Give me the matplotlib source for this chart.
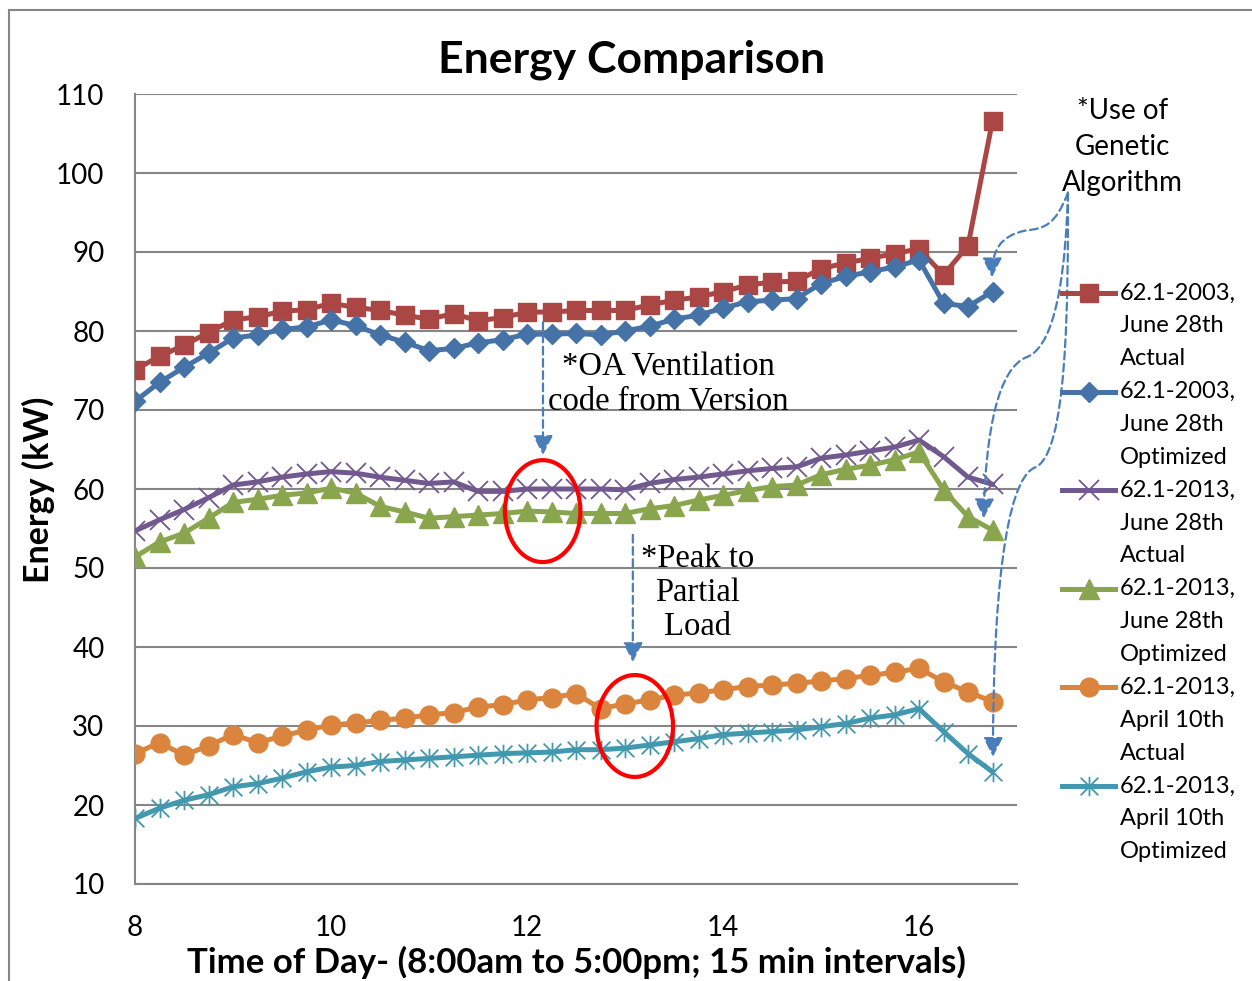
import matplotlib
matplotlib.use("Agg")
import matplotlib.pyplot as plt
from matplotlib.patches import FancyArrowPatch, Ellipse, Rectangle
from matplotlib.path import Path
from matplotlib.lines import Line2D

# time of day, 15 minute steps
hours = [8.0, 8.25, 8.5, 8.75, 9.0, 9.25, 9.5, 9.75, 10.0, 10.25, 10.5, 10.75,
         11.0, 11.25, 11.5, 11.75, 12.0, 12.25, 12.5, 12.75, 13.0, 13.25, 13.5, 13.75,
         14.0, 14.25, 14.5, 14.75, 15.0, 15.25, 15.5, 15.75, 16.0, 16.25, 16.5, 16.75]

jun_2003_actual = [75.1, 76.8, 78.2, 79.8, 81.4, 81.8, 82.5, 82.7, 83.5, 83.0, 82.6, 82.0,
                   81.5, 82.2, 81.3, 81.7, 82.4, 82.4, 82.6, 82.6, 82.6, 83.3, 83.9, 84.3,
                   85.0, 85.8, 86.2, 86.3, 87.9, 88.6, 89.2, 89.8, 90.4, 87.1, 90.8, 106.6]
jun_2003_opt = [71.1, 73.5, 75.4, 77.2, 79.1, 79.5, 80.2, 80.5, 81.4, 80.7, 79.5, 78.6,
                77.5, 77.8, 78.5, 78.9, 79.6, 79.6, 79.7, 79.5, 80.0, 80.6, 81.5, 82.0,
                82.9, 83.7, 83.9, 84.1, 86.0, 86.9, 87.5, 88.1, 89.0, 83.5, 83.1, 85.0]
jun_2013_actual = [54.7, 56.1, 57.4, 58.9, 60.5, 60.9, 61.5, 61.9, 62.2, 62.0, 61.5, 61.1,
                   60.7, 60.9, 59.7, 59.7, 60.0, 60.0, 60.0, 60.0, 59.9, 60.7, 61.2, 61.5,
                   61.9, 62.3, 62.6, 62.8, 63.9, 64.3, 64.8, 65.3, 66.2, 64.1, 61.5, 60.6]
jun_2013_opt = [51.4, 53.3, 54.4, 56.3, 58.3, 58.7, 59.2, 59.5, 60.1, 59.5, 57.8, 57.1,
                56.3, 56.5, 56.7, 56.9, 57.2, 57.1, 56.9, 56.9, 56.9, 57.5, 57.9, 58.6,
                59.2, 59.8, 60.3, 60.5, 61.8, 62.5, 63.0, 63.7, 64.7, 59.9, 56.5, 54.8]
apr_2013_actual = [26.5, 27.9, 26.3, 27.5, 28.9, 27.9, 28.7, 29.5, 30.1, 30.4, 30.7, 31.0,
                   31.4, 31.7, 32.4, 32.7, 33.3, 33.6, 34.1, 32.2, 32.8, 33.3, 33.9, 34.2,
                   34.6, 35.0, 35.2, 35.4, 35.7, 36.0, 36.4, 36.8, 37.3, 35.6, 34.3, 33.1]
apr_2013_opt = [18.3, 19.6, 20.6, 21.3, 22.3, 22.7, 23.4, 24.2, 24.8, 25.0, 25.5, 25.7,
                25.9, 26.1, 26.3, 26.5, 26.6, 26.7, 27.0, 27.0, 27.2, 27.6, 28.0, 28.4,
                28.9, 29.1, 29.3, 29.5, 29.9, 30.3, 31.0, 31.4, 32.2, 29.3, 26.5, 24.2]

labels = ["62.1-2003,\nJune 28th\nActual",
          "62.1-2003,\nJune 28th\nOptimized",
          "62.1-2013,\nJune 28th\nActual",
          "62.1-2013,\nJune 28th\nOptimized",
          "62.1-2013,\nApril 10th\nActual",
          "62.1-2013,\nApril 10th\nOptimized"]

# excel style asterisk marker
star = Path([(-0.5, -0.5), (0.5, 0.5), (-0.5, 0.5), (0.5, -0.5), (0, -0.55), (0, 0.55)],
            [Path.MOVETO, Path.LINETO, Path.MOVETO, Path.LINETO, Path.MOVETO, Path.LINETO])

series = [jun_2003_actual, jun_2003_opt, jun_2013_actual, jun_2013_opt, apr_2013_actual, apr_2013_opt]
colors = ['#AA4643', '#4572A7', '#71588F', '#89A54E', '#DB843D', '#4198AF']
markers = ['s', 'D', 'x', '^', 'o', star]
msizes = [13.5, 10, 14, 14.5, 13.5, 14]
mews = [1, 1, 1.3, 1, 1, 1.3]

sans = 'Lato'
serif = 'Liberation Serif'
grid_c = '#868686'
arrow_c = '#4A7EBB'

fig = plt.figure(figsize=(12.52, 9.81), dpi=100)
ax = fig.add_axes([135/1252, 1-884/981, 882/1252, 790/981])

for ys, c, m, ms, mew in zip(series, colors, markers, msizes, mews):
    ax.plot(hours, ys, color=c, lw=3.6, marker=m, ms=ms, mfc=c, mec=c, mew=mew,
            solid_joinstyle='round', zorder=3)

ax.set_xlim(8, 17)
ax.set_ylim(10, 110)
ax.set_xticks([8, 10, 12, 14, 16])
ax.set_yticks(range(10, 111, 10))
ax.grid(axis='y', color=grid_c, lw=1.5)
ax.set_axisbelow(True)
for s in ['top', 'right']:
    ax.spines[s].set_visible(False)
for s in ['left', 'bottom']:
    ax.spines[s].set_color(grid_c)
    ax.spines[s].set_linewidth(1.5)
ax.tick_params(length=0, labelsize=20)
ax.tick_params(axis='y', pad=22)
ax.tick_params(axis='x', pad=22)
for t in ax.get_xticklabels() + ax.get_yticklabels():
    t.set_fontfamily(sans)

fig.text(632/1252, 1-60/981, "Energy Comparison", fontsize=32, fontweight='bold',
         family=sans, ha='center', va='center')
ax.set_xlabel("Time of Day- (8:00am to 5:00pm; 15 min intervals)", fontsize=25,
              fontweight='bold', family=sans, labelpad=3.5)
fig.text(38/1252, 1-490/981, "Energy (kW)", fontsize=24.5, fontweight='bold', family=sans,
         rotation=90, ha='center', va='center')

# annotations
ax.text(13.44, 73.2, "*OA Ventilation\ncode from Version", family=serif, fontsize=23.5,
        ha='center', va='center', linespacing=1.15)
ax.text(13.74, 46.9, "*Peak to\nPartial\nLoad", family=serif, fontsize=23.5,
        ha='center', va='center', linespacing=1.15)
ax.text(18.08, 103.3, "*Use of\nGenetic\nAlgorithm", family=sans, fontsize=20,
        ha='center', va='center', linespacing=1.47, clip_on=False)

ax.add_patch(Ellipse((12.16, 57.2), 0.77, 12.9, fill=False, ec='#FF0000', lw=3, zorder=4))
ax.add_patch(Ellipse((13.1, 30.0), 0.78, 12.9, fill=False, ec='#FF0000', lw=3, zorder=4))

astyle = '-|>,head_length=0.65,head_width=0.33'
dash = (0, (3.5, 2))
for a, b in [((12.163, 81.1), (12.163, 64.3)), ((13.08, 54.2), (13.08, 38.1))]:
    ax.add_patch(FancyArrowPatch(a, b, arrowstyle=astyle, mutation_scale=18, color=arrow_c,
                                 lw=1.6, linestyle=dash, shrinkA=0, shrinkB=0, zorder=5))

C4 = [Path.MOVETO, Path.CURVE4, Path.CURVE4, Path.CURVE4, Path.CURVE4, Path.CURVE4, Path.CURVE4]
curves = [
    [(17.52, 97.5), (17.39, 93.4), (17.29, 93.0), (17.08, 92.7), (16.83, 92.0), (16.745, 90.3), (16.745, 86.8)],
    [(17.52, 97.5), (17.50, 89.0), (17.42, 78.2), (17.10, 76.7), (16.81, 75.3), (16.68, 67.5), (16.66, 56.3)],
    [(17.52, 97.5), (17.52, 83.9), (17.52, 64.3), (17.18, 62.7), (16.88, 61.1), (16.755, 46.0), (16.755, 26.1)],
]
for v in curves:
    ax.add_patch(FancyArrowPatch(path=Path(v, C4), arrowstyle=astyle, mutation_scale=18,
                                 color=arrow_c, lw=1.6, linestyle=dash, clip_on=False, zorder=5))

# legend drawn by hand, handle next to first line of each entry
for i, (lab, c, m, ms, mew) in enumerate(zip(labels, colors, markers, msizes, mews)):
    y0 = 1 - (293 + i * 98.6) / 981
    fig.add_artist(Line2D([1062/1252, 1115/1252], [y0, y0], color=c, lw=3.6,
                          transform=fig.transFigure))
    fig.add_artist(Line2D([1088.5/1252], [y0], color=c, marker=m, ms=ms, mfc=c, mec=c,
                          mew=mew, transform=fig.transFigure))
    for j, line in enumerate(lab.split("\n")):
        fig.text(1120/1252, y0 - j * 32.8 / 981, line, family=sans, fontsize=17,
                 ha='left', va='center')

# outer chart frame
fig.add_artist(Rectangle((9/1252, -0.1), 1.2, 1.1 - 10/981, fill=False, ec=grid_c,
                         lw=1.5, transform=fig.transFigure))

fig.savefig("out.png", dpi=100)
